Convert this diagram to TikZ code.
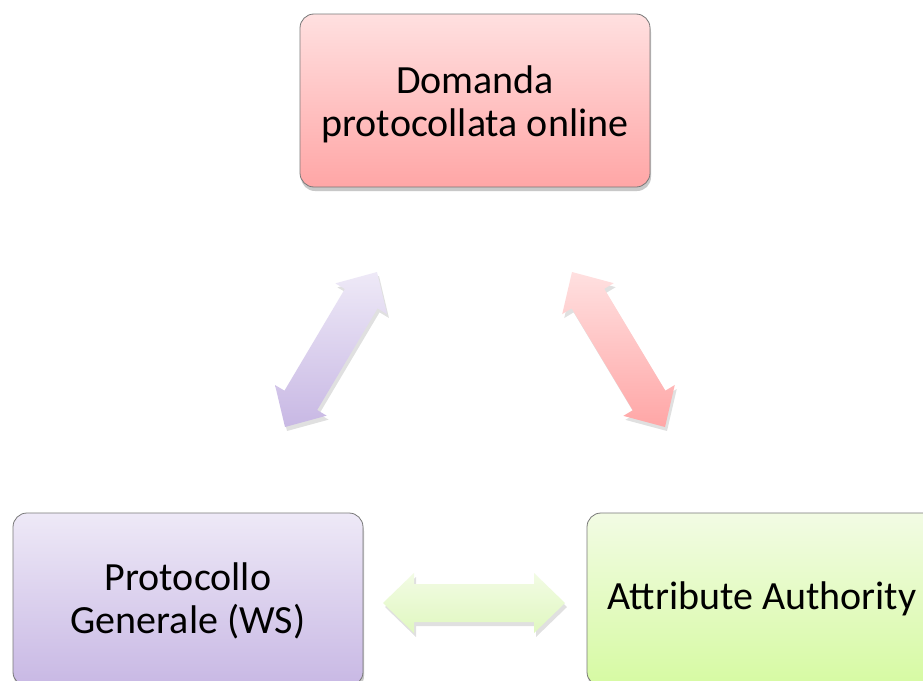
\documentclass[tikz,border=0pt]{standalone}
\usepackage{fontspec}
\setmainfont{Carlito}
\usetikzlibrary{calc,shadows}
\definecolor{boxline}{RGB}{120,120,120}
\definecolor{redtop}{RGB}{255,224,224}
\definecolor{redbot}{RGB}{255,166,166}
\definecolor{purtop}{RGB}{238,233,247}
\definecolor{purbot}{RGB}{200,184,228}
\definecolor{grntop}{RGB}{242,251,228}
\definecolor{grnbot}{RGB}{214,250,162}
\definecolor{arrgrnbot}{RGB}{224,248,192}
\newcommand\blockarrow[6]{%
  % #1 tip A, #2 tip B, #3 head length, #4 head half-width, #5 shaft half-width, #6 style
  \path[#6] (#1) -- ($(#1)!#3!(#2)!#4!90:(#2)$) -- ($(#1)!#3!(#2)!#5!90:(#2)$)
    -- ($(#2)!#3!(#1)!#5!-90:(#1)$) -- ($(#2)!#3!(#1)!#4!-90:(#1)$) -- (#2)
    -- ($(#2)!#3!(#1)!#4!90:(#1)$) -- ($(#2)!#3!(#1)!#5!90:(#1)$)
    -- ($(#1)!#3!(#2)!#5!-90:(#2)$) -- ($(#1)!#3!(#2)!#4!-90:(#2)$) -- cycle;}
\begin{document}
\begin{tikzpicture}[x=1pt,y=-1pt,
  box/.style={draw=boxline, line width=0.8pt, rounded corners=14pt,
    minimum width=350pt, minimum height=173pt, align=center, inner sep=0pt,
    font=\fontsize{40}{43}\selectfont,
    drop shadow={shadow xshift=1pt, shadow yshift=-4pt, opacity=0.3, fill=black!70}},
  arrshadow/.style={fill=black, fill opacity=0.12, transform canvas={shift={(2pt,-4pt)}}},
]
\useasboundingbox (0,0) rectangle (923,680);
\fill[white] (0,0) rectangle (923,680);

\node[box, top color=redtop, bottom color=redbot] (dom) at (475,100.5) {};
\node[font=\fontsize{40}{43}\selectfont, align=center] (domt) at (475,104) {Domanda\\protocollata online};
\node[box, top color=purtop, bottom color=purbot] (pro) at (188,599.5) {};
\node[font=\fontsize{40}{43}\selectfont, align=center] (prot) at (188,601) {Protocollo\\Generale (WS)};
\node[box, top color=grntop, bottom color=grnbot] (att) at (762,599.5) {};
\node[font=\fontsize{40}{43}\selectfont, align=center] (attt) at (762,599) {Attribute Authority};

\coordinate (la) at (285,427);
\coordinate (lb) at (377,272);
\coordinate (ra) at (572,272);
\coordinate (rb) at (665,427);
\coordinate (ba) at (383,603);
\coordinate (bb) at (565,603);

\blockarrow{la}{lb}{31pt}{30pt}{19pt}{arrshadow}
\blockarrow{la}{lb}{31pt}{30pt}{19pt}{top color=purtop, bottom color=purbot}
\blockarrow{ra}{rb}{31pt}{30pt}{19pt}{arrshadow}
\blockarrow{ra}{rb}{31pt}{30pt}{19pt}{top color=redtop, bottom color=redbot}
\blockarrow{ba}{bb}{31pt}{30pt}{19pt}{arrshadow}
\blockarrow{ba}{bb}{31pt}{30pt}{19pt}{top color=grntop, bottom color=arrgrnbot}
\end{tikzpicture}
\end{document}
